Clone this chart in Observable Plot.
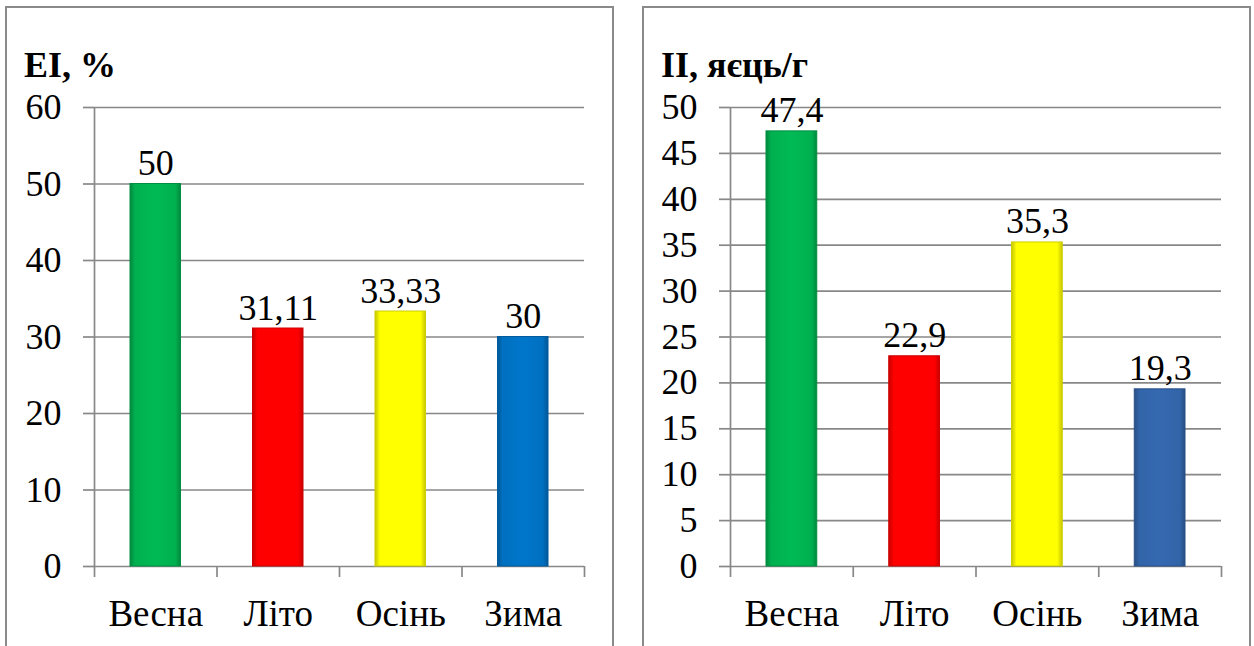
<!DOCTYPE html>
<html>
<head>
<meta charset="utf-8">
<script src="https://cdn.jsdelivr.net/npm/d3@7"></script>
<script src="https://cdn.jsdelivr.net/npm/@observablehq/plot@0.6"></script>
<style>
  html, body { margin: 0; padding: 0; background: #fff; }
  body { width: 1254px; height: 646px; position: relative; overflow: hidden; }
  .panel { position: absolute; top: 6px; width: 605px; height: 660px; border: 2px solid #8a8a8a; background: #fff; }
  .panel svg { position: absolute; left: 0; top: 0; }
  .title { position: absolute; left: 17px; top: 37px; font-family: 'Liberation Serif', 'Times New Roman', serif; font-weight: bold; font-size: 36px; line-height: 40px; color: #000; white-space: nowrap; }
</style>
</head>
<body>
<div class="panel" id="p1" style="left:5px"><div class="title">ЕІ, %</div></div>
<div class="panel" id="p2" style="left:642px"><div class="title">ІІ, яєць/г</div></div>
<script>
const seasons = ["Весна", "Літо", "Осінь", "Зима"];
const eiValues = [50, 31.11, 33.33, 30];
const iiValues = [47.4, 22.9, 35.3, 19.3];
const eiTicks = [0, 10, 20, 30, 40, 50, 60];
const iiTicks = [0, 5, 10, 15, 20, 25, 30, 35, 40, 45, 50];
const eiColors = ["#00B050", "#FF0000", "#FFFF00", "#0070C0"];
const iiColors = ["#00B050", "#FF0000", "#FFFF00", "#3264A8"];

const fmt = v => String(v).replace(".", ",");
const GRID = "#888888";
const FONT = "'Liberation Serif', 'Times New Roman', serif";

function makeChart(values, ticks, yMax, colors, prefix, marginLeft) {
  const data = seasons.map((s, i) => ({s, i, v: values[i], label: fmt(values[i]),
    fill: `url(#${prefix}${i})`, stroke: d3.color(colors[i]).darker(0.6).formatHex()}));
  const chart = Plot.plot({
    width: 605, height: 638,
    marginLeft, marginRight: 28, marginTop: 99, marginBottom: 80,
    style: `font-family: ${FONT}; font-size: 36px; color: #000; background: transparent; overflow: visible;`,
    x: {type: "linear", domain: [-0.5, 3.5], axis: null, label: null},
    y: {domain: [0, yMax], axis: null, label: null},
    color: {type: "identity"},
    marks: [
      Plot.gridY(ticks, {stroke: GRID, strokeOpacity: 1, strokeWidth: 1.7}),
      Plot.axisY(ticks, {tickSize: 11, tickPadding: 22, stroke: GRID, strokeWidth: 1.7, fontSize: 36, fontFamily: FONT, label: null}),
      Plot.ruleX([-0.5], {y1: 0, y2: yMax, stroke: GRID, strokeWidth: 1.7}),
      Plot.ruleX([-0.5, 0.5, 1.5, 2.5, 3.5], {y1: 0, y2: 0, insetBottom: -11, stroke: GRID, strokeWidth: 1.7}),
      Plot.axisX(d3.range(seasons.length), {tickSize: 0, tickPadding: 33, tickFormat: i => seasons[i], fontSize: 37, fontFamily: FONT, label: null}),
      Plot.rectY(data, {x1: d => d.i - 0.5, x2: d => d.i + 0.5, y1: 0, y2: "v", insetLeft: 36, insetRight: 36,
        fill: "fill", stroke: "stroke", strokeWidth: 1}),
      Plot.text(data, {x: "i", y: "v", text: "label", lineAnchor: "bottom", dy: -9, fontSize: 36, fontFamily: FONT, fill: "#000"})
    ]
  });
  const ns = "http://www.w3.org/2000/svg";
  const defs = document.createElementNS(ns, "defs");
  colors.forEach((c, i) => {
    const g = document.createElementNS(ns, "linearGradient");
    g.setAttribute("id", prefix + i);
    g.setAttribute("x1", "0"); g.setAttribute("x2", "1"); g.setAttribute("y1", "0"); g.setAttribute("y2", "0");
    const dark = d3.color(c).darker(0.7).formatHex();
    const light = d3.color(c).brighter(0.15).formatHex();
    [[0, dark], [0.1, c], [0.5, light], [0.9, c], [1, dark]].forEach(([o, col]) => {
      const st = document.createElementNS(ns, "stop");
      st.setAttribute("offset", o); st.setAttribute("stop-color", col);
      g.appendChild(st);
    });
    defs.appendChild(g);
  });
  chart.insertBefore(defs, chart.firstChild);
  return chart;
}

document.getElementById("p1").appendChild(makeChart(eiValues, eiTicks, 60, eiColors, "gEI", 87));
document.getElementById("p2").appendChild(makeChart(iiValues, iiTicks, 50, iiColors, "gII", 86));
</script>
</body>
</html>
